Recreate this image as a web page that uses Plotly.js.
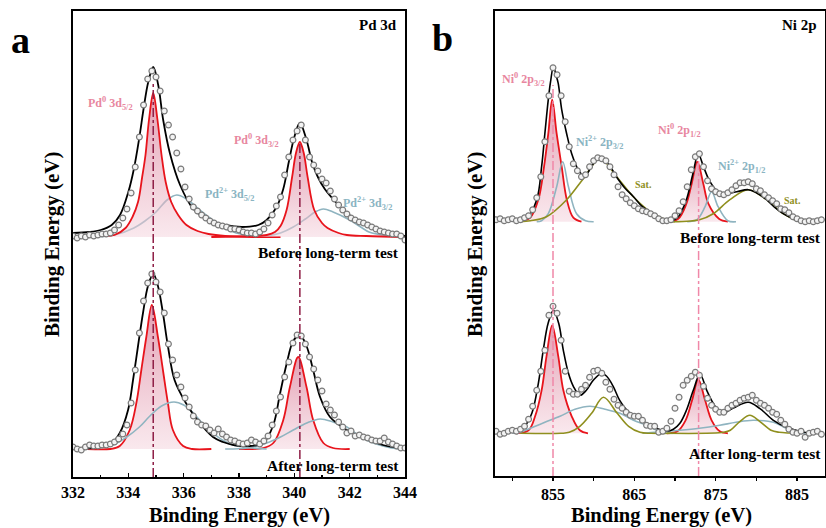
<!DOCTYPE html>
<html>
<head>
<meta charset="utf-8">
<script src="https://cdn.plot.ly/plotly-3.0.1.min.js"></script>
<style>html,body{margin:0;padding:0;background:#fff;}#chart{width:826px;height:528px;}</style>
</head>
<body>
<div id="chart"></div>
<script>
// ---------- Panel a: Pd 3d (binding energy grid, eV) ----------
const xa = [332.00,332.15,332.30,332.45,332.60,332.75,332.90,333.05,333.20,333.35,333.50,333.65,333.80,333.95,334.10,334.25,334.40,334.55,334.70,334.85,335.00,335.15,335.30,335.45,335.60,335.75,335.90,336.05,336.20,336.35,336.50,336.65,336.80,336.95,337.10,337.25,337.40,337.55,337.70,337.85,338.00,338.15,338.30,338.45,338.60,338.75,338.90,339.05,339.20,339.35,339.50,339.65,339.80,339.95,340.10,340.25,340.40,340.55,340.70,340.85,341.00,341.15,341.30,341.45,341.60,341.75,341.90,342.05,342.20,342.35,342.50,342.65,342.80,342.95,343.10,343.25,343.40,343.55,343.70,343.85,344.00];
const aTopData = [1,-1,1,0,2,1,2,3,3,4,7,12,19,28,44,70,100,132,158,166,160,146,126,112,100,84,68,50,38,30,26,22,19,16,14,12,11,10,8,8,7,5,4,4,3,5,8,14,22,31,40,62,80,97,106,112,97,80,72,66,58,54,46,38,32,27,23,19,17,15,14,12,10,8,6,5,4,3,3,1,-3];
const aBotData = [2,0,-1,2,4,3,3,4,4,5,7,10,15,24,46,79,116,148,166,175,167,157,136,105,89,74,62,51,42,33,27,24,23,19,16,20,15,12,9,8,6,5,6,9,7,5,8,13,24,38,52,72,87,106,114,113,105,92,80,69,58,45,39,34,27,22,16,18,13,14,12,11,9,8,8,11,7,5,3,1,1];

const aTopEnvX = [332.0,332.6,333.0,333.4,333.7,334.0,334.2,334.4,334.55,334.72,334.9,335.08,335.26,335.5,335.87,336.35,336.9,337.5,338.1,338.7,339.0,339.36,339.6,339.8,340.0,340.2,340.44,340.65,340.85,341.1,341.4,341.8,342.2,342.6,343.0,343.5,344.0];
const aTopEnvY = [4,5,7,12,22,45,68,100,128,155,170,152,117,84,52,28,17,12,10,12,17,30,48,75,100,114,97,74,60,48,38,26,18,12,7,3,1];
const aTopPd0d52X = [332.0,333.0,333.5,333.9,334.15,334.35,334.5,334.62,334.75,334.9,335.05,335.2,335.35,335.55,335.8,336.1,336.5,336.9,337.5,338.5,339.5];
const aTopPd0d52Y = [0,1,2,9,20,35,60,82,118,144,118,82,55,35,22,12,6,3,1,0,0];
const aTopPd2d52X = [332.0,333.0,333.5,334.2,334.6,335.0,335.4,335.75,336.1,336.5,336.95,337.4,337.9,338.5,339.2];
const aTopPd2d52Y = [0,0.5,2,9,16,25,37,42,38,29,19,10,4,1,0];
const aTopPd0d32X = [337.0,338.5,339.0,339.3,339.5,339.72,339.92,340.06,340.2,340.34,340.48,340.72,341.0,341.2,341.6,341.9,342.6,344.0];
const aTopPd0d32Y = [0,1,2,5,11,27,60,84,95,84,60,27,14,9,4,2,1,0];
const aTopPd2d32X = [338.5,339.0,339.5,339.96,340.4,340.75,341.05,341.4,342.0,342.4,342.7,343.2,343.6,344.0];
const aTopPd2d32Y = [0,1,4,10,18,25,28,25,17,10,5,2,1,0];

const aBotEnvX = [332.0,332.7,333.33,333.69,333.99,334.17,334.35,334.53,334.71,334.9,335.07,335.25,335.43,335.67,336.08,336.58,337.06,337.42,337.8,338.4,338.88,339.24,339.48,339.72,339.96,340.2,340.44,340.68,340.93,341.29,341.9,342.5,343.2,344.0];
const aBotEnvY = [0,1,4,16,39,69,103,136,163,175,163,136,103,69,46,26,12,7,4,3,6,24,55,85,108,114,103,79,52,32,19,11,4,0];
const aBotPd0d52X = [332.5,333.35,333.69,334.05,334.29,334.47,334.65,334.85,335.07,335.25,335.43,335.61,335.98,336.3,337.0];
const aBotPd0d52Y = [0,0,3,19,46,79,112,144,112,79,46,19,3,0,0];
const aBotPd2d52X = [332.0,333.34,333.94,334.4,334.78,335.2,335.65,336.0,336.35,336.7,337.06,337.4,337.78,338.5,339.0];
const aBotPd2d52Y = [0,3,12,22,33,43,47,44,36,25,16,9,4,1,0];
const aBotPd0d32X = [338.0,338.88,339.24,339.6,339.84,340.14,340.44,340.68,341.05,341.4,342.0];
const aBotPd0d32Y = [0,1,6,29,62,92,62,29,6,1,0];
const aBotPd2d32X = [337.5,338.3,339.0,339.5,339.96,340.45,340.93,341.4,341.9,342.25,342.6,343.2,343.8,344.0];
const aBotPd2d32Y = [0,1,6,12,19,26,30,27,22,15,9,3,0,0];
const aRefLines = [334.9, 340.2];
const aTicks = [332, 334, 336, 338, 340, 342, 344];

// ---------- Panel b: Ni 2p ----------
const xb = [848.0,848.5,849.0,849.5,850.0,850.5,851.0,851.5,852.0,852.5,853.0,853.5,854.0,854.5,855.0,855.5,856.0,856.5,857.0,857.5,858.0,858.5,859.0,859.5,860.0,860.5,861.0,861.5,862.0,862.5,863.0,863.5,864.0,864.5,865.0,865.5,866.0,866.5,867.0,867.5,868.0,868.5,869.0,869.5,870.0,870.5,871.0,871.5,872.0,872.5,873.0,873.5,874.0,874.5,875.0,875.5,876.0,876.5,877.0,877.5,878.0,878.5,879.0,879.5,880.0,880.5,881.0,881.5,882.0,882.5,883.0,883.5,884.0,884.5,885.0,885.5,886.0,886.5,887.0,887.5,888.0];
const bTopData = [2,3,1,2,3,1,2,4,6,12,24,45,80,126,154,147,126,100,75,58,51,45,47,55,61,64,63,61,55,47,35,27,23,19,16,13,11,10,8,6,3,1,1,2,6,11,20,35,52,65,68,55,41,33,30,28,27,29,32,36,39,39,40,38,33,31,27,24,21,18,13,12,9,5,3,1,0,1,0,1,2];
const bBotData = [2,-1,0,2,3,2,4,7,14,27,43,62,83,118,127,120,93,62,42,39,39,44,48,56,62,63,60,51,44,34,28,25,21,18,17,17,13,8,7,7,1,2,5,12,25,36,48,53,57,61,58,47,35,28,24,21,21,25,28,30,33,35,36,38,33,30,28,25,21,19,13,9,4,1,0,2,-4,0,1,2,-1];

const bTopEnvX = [850.5,851.8,853.0,853.6,854.0,854.42,854.7,855.05,855.4,855.65,856.07,856.68,857.3,858.1,858.9,859.5,860.37,860.9,861.8,862.8,863.8,864.9,866.0,867.3,868.5,869.6,870.4,871.4,872.2,872.86,873.5,874.3,875.3,876.35,877.6,879.0,880.0,881.25,882.3,883.3,884.2,885.0,886.0];
const bTopEnvY = [1,4,22,55,88,122,140,155,146,138,112,88,68,52,45,52,62,63,58,45,34,25,15,8,3,1,5,22,48,68,55,40,30,28,30,32,29,22,14,8,4,1,0];
const bTopNi0p32X = [851.0,852.2,853.2,853.9,854.42,854.9,855.45,856.07,856.7,857.5,858.5];
const bTopNi0p32Y = [0,4,22,55,88,122,88,55,22,4,0];
const bTopNi2p32X = [853.0,853.6,854.42,855.45,856.19,856.9,857.9,859.0,860.0];
const bTopNi2p32Y = [0,1,8,35,60,35,8,1,0];
const bTopSat1X = [851.0,852.2,854.2,856.68,858.73,860.78,862.83,864.87,867.3,869.3,870.0];
const bTopSat1Y = [0,1,5,22,43,63,45,25,8,1,0];
const bTopNi0p12X = [869.0,870.4,871.4,872.05,872.74,873.48,874.1,875.4,876.5];
const bTopNi0p12Y = [0,3,18,38,60,38,18,3,0];
const bTopNi2p12X = [871.5,872.7,873.7,874.5,875.3,876.5,877.5];
const bTopNi2p12Y = [0,2,15,30,15,1,0];
const bTopSat2X = [869.0,873.0,874.7,876.75,879.0,881.25,883.3,885.0,885.5];
const bTopSat2Y = [0,2,8,22,32,22,8,1,0];

const bBotEnvX = [849.5,850.5,851.5,852.4,853.2,853.8,854.4,855.05,855.7,856.27,856.9,857.5,858.3,859.1,859.95,861.0,861.6,862.4,863.2,864.47,866.1,867.7,869.0,869.8,870.6,871.4,872.25,873.07,873.9,874.7,875.7,877.1,879.0,880.4,882.1,883.7,885.4,886.5];
const bBotEnvY = [1,3,7,20,50,83,110,123,110,83,60,47,38,43,53,60,57,47,33,20,12,5,2,4,10,23,43,59,43,30,20,25,31,25,13,6,2,0];
const bBotNi0p32X = [850.5,852.0,852.8,853.6,854.2,854.9,855.65,856.27,857.3,858.3,859.3];
const bBotNi0p32Y = [0,3,17,43,77,108,77,43,17,3,0];
const bBotNi2p32X = [850.0,851.0,852.2,854.0,855.86,857.7,859.55,861.4,863.24,864.9,866.5,867.5,868.5,869.5];
const bBotNi2p32Y = [0,1,5,11,17,24,27,24,20,13,8,4,1,0];
const bBotSat1X = [851.0,856.0,857.0,858.3,859.75,861.2,862.9,864.3,865.7,867.0,870.0];
const bBotSat1Y = [0,0,1,7,20,36,20,7,1,0,0];
const bBotNi0p12X = [869.0,870.3,871.3,872.1,872.86,873.7,874.5,875.5,876.5];
const bBotNi0p12Y = [0,2,13,33,54,33,13,2,0];
const bBotNi2p12X = [866.0,867.4,870.6,873.0,875.5,877.5,879.6,882.1,883.7,885.4,886.0];
const bBotNi2p12Y = [0,1,3,5,8,11,13,11,5,1,0];
const bBotSat2X = [869.0,876.0,876.8,878.0,879.2,880.4,881.8,882.8,885.5];
const bBotSat2Y = [0,1,3,12,18,12,3,1,0];
const bRefLines = [855.0, 872.9];
const bTicks = [855, 865, 875, 885];

// ---------- styles ----------
const FONT = 'Liberation Serif, "Times New Roman", serif';
const RED = '#e8141c', BLUE = '#8fb4c0', OLIVE = '#8f8f1e', BLACK = '#000000';
const W = 826, H = 528;
const PX = p => p / W, PY = p => 1 - p / H;

function curve(x, y, xr, yr, color, width) {
  return {type:'scatter', mode:'lines', x:x, y:y, xaxis:xr, yaxis:yr,
    line:{color:color, width:width, shape:'spline', smoothing:1}, hoverinfo:'skip'};
}
function peak(x, y, xr, yr) {
  const t = curve(x, y, xr, yr, RED, 1.8);
  t.fill = 'tozeroy';
  t.fillcolor = 'rgba(222,120,150,0.32)';
  t.fillgradient = {type:'vertical', colorscale:[[0,'rgba(244,210,220,0.5)'],[1,'rgba(210,100,132,0.62)']]};
  return t;
}
function pts(x, y, xr, yr) {
  return {type:'scatter', mode:'markers', x:x, y:y, xaxis:xr, yaxis:yr, hoverinfo:'skip',
    marker:{symbol:'circle', size:5.8, color:'#f3f3f3', line:{color:'#7a7a7a', width:1.2}}};
}

const traces = [
  // a, before
  curve(aTopPd2d52X, aTopPd2d52Y, 'x', 'y', BLUE, 1.6),
  curve(aTopPd2d32X, aTopPd2d32Y, 'x', 'y', BLUE, 1.6),
  peak(aTopPd0d52X, aTopPd0d52Y, 'x', 'y'),
  peak(aTopPd0d32X, aTopPd0d32Y, 'x', 'y'),
  curve(aTopEnvX, aTopEnvY, 'x', 'y', BLACK, 1.8),
  pts(xa, aTopData, 'x', 'y'),
  // a, after
  peak(aBotPd0d52X, aBotPd0d52Y, 'x', 'y2'),
  peak(aBotPd0d32X, aBotPd0d32Y, 'x', 'y2'),
  curve(aBotPd2d52X, aBotPd2d52Y, 'x', 'y2', BLUE, 1.6),
  curve(aBotPd2d32X, aBotPd2d32Y, 'x', 'y2', BLUE, 1.6),
  curve(aBotEnvX, aBotEnvY, 'x', 'y2', BLACK, 1.8),
  pts(xa, aBotData, 'x', 'y2'),
  // b, before
  peak(bTopNi0p32X, bTopNi0p32Y, 'x2', 'y3'),
  peak(bTopNi0p12X, bTopNi0p12Y, 'x2', 'y3'),
  curve(bTopNi2p32X, bTopNi2p32Y, 'x2', 'y3', BLUE, 1.6),
  curve(bTopNi2p12X, bTopNi2p12Y, 'x2', 'y3', BLUE, 1.6),
  curve(bTopSat1X, bTopSat1Y, 'x2', 'y3', OLIVE, 1.6),
  curve(bTopSat2X, bTopSat2Y, 'x2', 'y3', OLIVE, 1.6),
  curve(bTopEnvX, bTopEnvY, 'x2', 'y3', BLACK, 1.6),
  pts(xb, bTopData, 'x2', 'y3'),
  // b, after
  peak(bBotNi0p32X, bBotNi0p32Y, 'x2', 'y4'),
  peak(bBotNi0p12X, bBotNi0p12Y, 'x2', 'y4'),
  curve(bBotNi2p32X, bBotNi2p32Y, 'x2', 'y4', BLUE, 1.6),
  curve(bBotNi2p12X, bBotNi2p12Y, 'x2', 'y4', BLUE, 1.6),
  curve(bBotSat1X, bBotSat1Y, 'x2', 'y4', OLIVE, 1.6),
  curve(bBotSat2X, bBotSat2Y, 'x2', 'y4', OLIVE, 1.6),
  curve(bBotEnvX, bBotEnvY, 'x2', 'y4', BLACK, 1.6),
  pts(xb, bBotData, 'x2', 'y4')
];

const tickFont = {family:FONT, size:16, color:'#000', weight:'bold'};
const frame = {showline:true, linecolor:'#000', linewidth:1.6, mirror:true, showgrid:false, zeroline:false};

const PINK = '#e8879f', LBLUE = '#8ab4c2';
function ann(text, px, py, color, size, xanchor, extra) {
  return Object.assign({text:text, x:PX(px), y:PY(py), xref:'paper', yref:'paper', showarrow:false,
    xanchor:xanchor || 'center', yanchor:'middle', font:{family:FONT, size:size, color:color}}, extra || {});
}

const annotations = [
  ann('<b>a</b>', 20, 40, '#000', 38),
  ann('<b>b</b>', 442, 38, '#000', 38),
  ann('<b>Pd 3d</b>', 399, 25, '#000', 15, 'right'),
  ann('<b>Ni 2p</b>', 819, 25, '#000', 15, 'right'),
  ann('<b>Pd<sup>0</sup> 3d<sub>5/2</sub></b>', 111, 103, PINK, 12),
  ann('<b>Pd<sup>0</sup> 3d<sub>3/2</sub></b>', 256, 140, PINK, 12),
  ann('<b>Pd<sup>2+</sup> 3d<sub>5/2</sub></b>', 229, 194, LBLUE, 12),
  ann('<b>Pd<sup>2+</sup> 3d<sub>3/2</sub></b>', 367, 203, LBLUE, 12),
  ann('<b>Before long-term test</b>', 401, 252, '#000', 15.5, 'right'),
  ann('<b>After long-term test</b>', 401, 465, '#000', 15.5, 'right'),
  ann('<b>Ni<sup>0</sup> 2p<sub>3/2</sub></b>', 523, 80, PINK, 12),
  ann('<b>Ni<sup>2+</sup> 2p<sub>3/2</sub></b>', 599, 143, LBLUE, 12),
  ann('<b>Sat.</b>', 643, 185, OLIVE, 10),
  ann('<b>Ni<sup>0</sup> 2p<sub>1/2</sub></b>', 679, 131, PINK, 12),
  ann('<b>Ni<sup>2+</sup> 2p<sub>1/2</sub></b>', 741, 166, LBLUE, 12),
  ann('<b>Sat.</b>', 792, 200, OLIVE, 10),
  ann('<b>Before long-term test</b>', 823, 237, '#000', 15.5, 'right'),
  ann('<b>After long-term test</b>', 823, 453, '#000', 15.5, 'right'),
  ann('<b>Binding Energy (eV)</b>', 239, 515, '#000', 20.5),
  ann('<b>Binding Energy (eV)</b>', 661, 515, '#000', 20.5),
  ann('<b>Binding Energy (eV)</b>', 52, 244, '#000', 21, 'center', {textangle:-90}),
  ann('<b>Binding Energy (eV)</b>', 475, 244, '#000', 21, 'center', {textangle:-90})
];

const shapes = [];
aRefLines.forEach((v, i) => shapes.push({type:'line', xref:'x', yref:'paper', x0:v, x1:v,
  y0:PY(477), y1:PY(i === 0 ? 83 : 141), line:{color:'#8e1d45', width:1.5, dash:'dashdot'}}));
bRefLines.forEach((v, i) => shapes.push({type:'line', xref:'x2', yref:'paper', x0:v, x1:v,
  y0:PY(476), y1:PY(i === 0 ? 85 : 158), line:{color:'#f088a8', width:1.5, dash:'dashdot'}}));

const layout = {
  width:W, height:H, margin:{l:0, r:0, t:0, b:0},
  paper_bgcolor:'#fff', plot_bgcolor:'rgba(0,0,0,0)', showlegend:false,
  font:{family:FONT, color:'#000'},
  xaxis: Object.assign({}, frame, {domain:[PX(73), PX(405)], range:[332, 344], anchor:'y',
    tickmode:'array', tickvals:aTicks, ticktext:aTicks.map(String), ticks:'inside', ticklen:4, tickwidth:1.3, tickcolor:'#000',
    minor:{dtick:1, tick0:332, ticks:'inside', ticklen:2.5, tickwidth:1.1, tickcolor:'#000'}, tickfont:tickFont}),
  yaxis: Object.assign({}, frame, {domain:[PY(477), PY(11)], range:[-240, 226], anchor:'x', showticklabels:false, ticks:''}),
  yaxis2: {overlaying:'y', anchor:'x', range:[-28, 438], visible:false, showgrid:false, zeroline:false},
  xaxis2: Object.assign({}, frame, {domain:[PX(495), PX(825)], range:[847.87, 888.44], anchor:'y3',
    tickmode:'array', tickvals:bTicks, ticktext:bTicks.map(String), ticks:'outside', ticklen:3, tickwidth:1.3, tickcolor:'#000',
    minor:{dtick:5, tick0:850, ticks:'outside', ticklen:3, tickwidth:1.1, tickcolor:'#000'}, tickfont:tickFont}),
  yaxis3: Object.assign({}, frame, {domain:[PY(476), PY(11)], range:[-254.3, 210.7], anchor:'x2', showticklabels:false, ticks:''}),
  yaxis4: {overlaying:'y3', anchor:'x2', range:[-42.7, 422.3], visible:false, showgrid:false, zeroline:false},
  annotations:annotations,
  shapes:shapes
};

Plotly.newPlot('chart', traces, layout, {staticPlot:true, displayModeBar:false});
</script>
</body>
</html>
